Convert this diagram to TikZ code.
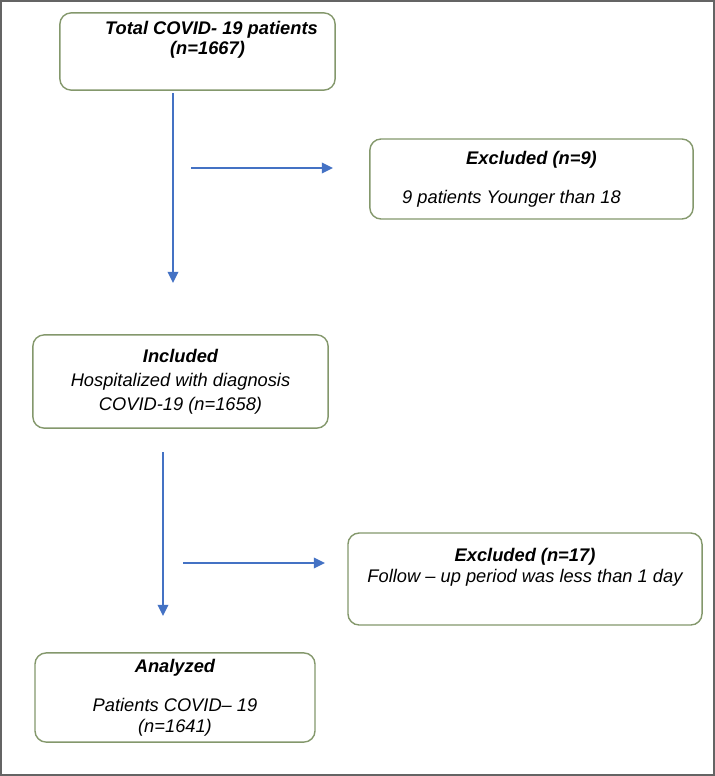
\documentclass[tikz,border=0pt]{standalone}
\usepackage{fontspec}
\setmainfont{Liberation Sans}
\usepackage{xcolor}
\usetikzlibrary{arrows.meta,positioning}

\definecolor{boxgreen}{RGB}{132,152,108}
\definecolor{arrowblue}{RGB}{68,114,196}
\definecolor{framegray}{RGB}{100,100,100}

\begin{document}
\begin{tikzpicture}[
    x=0.025cm, y=-0.025cm,
    box/.style={rectangle, draw=boxgreen, line width=1pt, rounded corners=8pt, fill=white, align=center, font=\itshape\fontsize{13}{17}\selectfont},
    flow/.style={draw=arrowblue, line width=1.6pt, -{Triangle[length=8pt,width=7.5pt]}}
]
    \useasboundingbox (0,0) rectangle (715,776);
    \draw[framegray, line width=1.6pt] (1,1) rectangle (714,775);

    \node[box, minimum width=6.88cm, minimum height=1.93cm] (total) at (197.5,51.5) {
        \hspace*{0.7cm}\textbf{Total COVID- 19 patients}\\[-3pt]
        \hspace*{0.5cm}\textbf{(n=1667)}\\[2pt]\mbox{}
    };

    \node[box, minimum width=8.08cm, minimum height=2.0cm] (excl1) at (531.5,179) {
        \textbf{Excluded (n=9)}\\[11pt]
        9 patients Younger than 18\hspace*{1cm}
    };

    \node[box, minimum width=7.38cm, minimum height=2.33cm] (incl) at (180.5,381.5) {
        \textbf{Included}\\
        Hospitalized with diagnosis\\
        COVID-19 (n=1658)
    };

    \node[box, minimum width=8.85cm, minimum height=2.3cm] (excl2) at (525,579) {
        \textbf{Excluded (n=17)}\\[-2pt]
        Follow – up period was less than 1 day\\[2pt]\mbox{}
    };

    \node[box, minimum width=7.0cm, minimum height=2.23cm] (anal) at (175,697.5) {
        \textbf{Analyzed}\\[11pt]
        Patients COVID– 19\\[-2pt]
        (n=1641)
    };

    % free arrow ends
    \coordinate (d1s) at (173,93);
    \coordinate (d1e) at (173,283);
    \coordinate (r1s) at (191,168);
    \coordinate (r1e) at (333,168);
    \coordinate (d2s) at (163,452);
    \coordinate (d2e) at (163,616);
    \coordinate (r2s) at (183,563);
    \coordinate (r2e) at (325,563);

    \draw[flow] (d1s) -- (d1e);
    \draw[flow] (r1s) -- (r1e);
    \draw[flow] (d2s) -- (d2e);
    \draw[flow] (r2s) -- (r2e);
\end{tikzpicture}
\end{document}
